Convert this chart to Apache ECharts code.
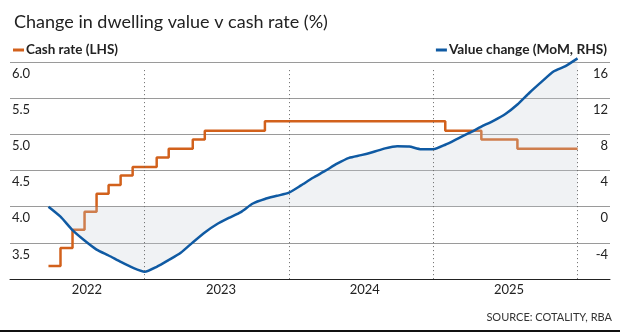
<!DOCTYPE html>
<html>
<head>
<meta charset="utf-8">
<script src="https://cdn.jsdelivr.net/npm/echarts@6/dist/echarts.min.js"></script>
<style>
html,body{margin:0;padding:0;background:#fff;}
#chart{width:620px;height:332px;}
</style>
</head>
<body>
<div id="chart"></div>
<script>
// Months of the data (monthly, May 2022 – Jan 2026)
var months = ['2022-05','2022-06','2022-07','2022-08','2022-09','2022-10','2022-11','2022-12',
  '2023-01','2023-02','2023-03','2023-04','2023-05','2023-06','2023-07','2023-08','2023-09','2023-10','2023-11','2023-12',
  '2024-01','2024-02','2024-03','2024-04','2024-05','2024-06','2024-07','2024-08','2024-09','2024-10','2024-11','2024-12',
  '2025-01','2025-02','2025-03','2025-04','2025-05','2025-06','2025-07','2025-08','2025-09','2025-10','2025-11','2025-12',
  '2026-01'];
// Cash rate, read against the LHS scale
var cashRate = [3.18,3.43,3.68,3.93,4.18,4.30,4.43,4.55,
  4.55,4.68,4.80,4.80,4.93,5.05,5.05,5.05,5.05,5.05,5.18,5.18,
  5.18,5.18,5.18,5.18,5.18,5.18,5.18,5.18,5.18,5.18,5.18,5.18,
  5.18,5.05,5.05,5.05,4.93,4.93,4.93,4.80,4.80,4.80,4.80,4.80,
  4.80];
// Dwelling value change, RHS
var valueChange = [0.0,-1.1,-2.6,-3.75,-4.75,-5.4,-6.1,-6.75,
  -7.2,-6.65,-5.9,-5.1,-3.95,-2.85,-1.95,-1.25,-0.6,0.35,0.85,1.2,
  1.55,2.35,3.2,3.95,4.75,5.4,5.7,6.05,6.45,6.68,6.65,6.35,
  6.35,6.85,7.5,8.15,8.85,9.5,10.25,11.3,12.6,13.8,14.95,15.55,
  16.4];
var yearLabels = ['2022','2023','2024','2025'];
var leftTicks = {min:3.0, max:6.0, interval:0.5};
var rightTicks = {min:-8, max:16, interval:4};
var yearBoundaries = ['2023-01','2024-01','2025-01','2026-01'];

function monthIndex(s){ var p = s.split('-'); return (parseInt(p[0],10)-2022)*12 + parseInt(p[1],10)-1; }

var cashData = months.map(function(m,i){ return [monthIndex(m), cashRate[i]]; });
var valueData = months.map(function(m,i){ return [monthIndex(m), valueChange[i]]; });

var ORANGE = '#d2611c', BLUE = '#0f5aa3';
var FONT = 'Lato';

var chart = echarts.init(document.getElementById('chart'), null, {renderer:'canvas'});
chart.setOption({
  animation: false,
  backgroundColor: '#fff',
  title: {
    text: 'Change in dwelling value v cash rate (%)',
    left: 9, top: 8,
    textStyle: {fontFamily: FONT, fontSize: 18, fontWeight: 'normal', color: '#222'}
  },
  legend: [
    {data:['Cash rate (LHS)'], left: 8, top: 38, icon:'rect', itemWidth: 11, itemHeight: 3, itemGap: 4,
      textStyle:{fontFamily: FONT, fontSize: 13.5, fontWeight: 'bold', color:'#222', padding:[0,0,0,-3]}},
    {data:['Value change (MoM, RHS)'], right: 8, top: 38, icon:'rect', itemWidth: 11, itemHeight: 3,
      textStyle:{fontFamily: FONT, fontSize: 13.7, fontWeight: 'bold', color:'#222', padding:[0,0,0,-3]}}
  ],
  grid: {left: 10, right: 10, top: 62, bottom: 53, containLabel: false},
  xAxis: {
    type: 'value', min: 0.8, max: 50.7,
    axisLine: {show: true, onZero: false, lineStyle: {color: '#222', width: 1}},
    axisTick: {show: false},
    splitLine: {show: false},
    axisLabel: {
      customValues: [7.2, 18.35, 30.3, 42.3],
      margin: 4,
      fontFamily: FONT, fontSize: 13, color: '#222',
      formatter: function(v){ return yearLabels[Math.floor(v/12)]; }
    }
  },
  yAxis: [
    {type:'value', min: leftTicks.min, max: leftTicks.max, interval: leftTicks.interval, position:'left',
      axisLine:{show:false}, axisTick:{show:false},
      splitLine:{show:true, lineStyle:{color:'#9a9a9a', width:1}},
      axisLabel:{inside:true, margin:2, showMinLabel:false, verticalAlign:'top', padding:[5,0,0,0],
        fontFamily: FONT, fontSize: 13, color:'#222',
        formatter: function(v){ return v.toFixed(1); }}},
    {type:'value', min: rightTicks.min, max: rightTicks.max, interval: rightTicks.interval, position:'right',
      axisLine:{show:false}, axisTick:{show:false},
      splitLine:{show:false},
      axisLabel:{inside:true, margin:2, showMinLabel:false, verticalAlign:'top', padding:[5,0,0,0],
        fontFamily: FONT, fontSize: 13, color:'#222'}}
  ],
  series: [
    {name:'Cash rate (LHS)', type:'line', yAxisIndex:0, data: cashData, step:'end',
      symbol:'none', color: ORANGE, lineStyle:{width:2.5, color: ORANGE}, z: 3},
    {name:'Value change (MoM, RHS)', type:'line', yAxisIndex:1, data: valueData, clip:false,
      symbol:'none', smooth: 0.2, color: BLUE, lineStyle:{width:2.5, color: BLUE},
      areaStyle:{origin: 0, color:'rgba(200,205,214,0.38)'}, z: 4,
      markLine:{silent:true, symbol:'none', label:{show:false},
        lineStyle:{color:'#666', type:[1,3], width:1},
        data: yearBoundaries.map(function(m){ return [{coord:[monthIndex(m), 15.1]}, {coord:[monthIndex(m), -8]}]; })}}
  ],
  graphic: [
    {type:'text', right: 8, top: 312, style:{text:'SOURCE: COTALITY, RBA', fontFamily: FONT, fontSize: 11, fill:'#333'}},
    {type:'rect', left: 0, top: 330, shape:{width:620, height:2}, style:{fill:'#111'}}
  ]
});
</script>
</body>
</html>
